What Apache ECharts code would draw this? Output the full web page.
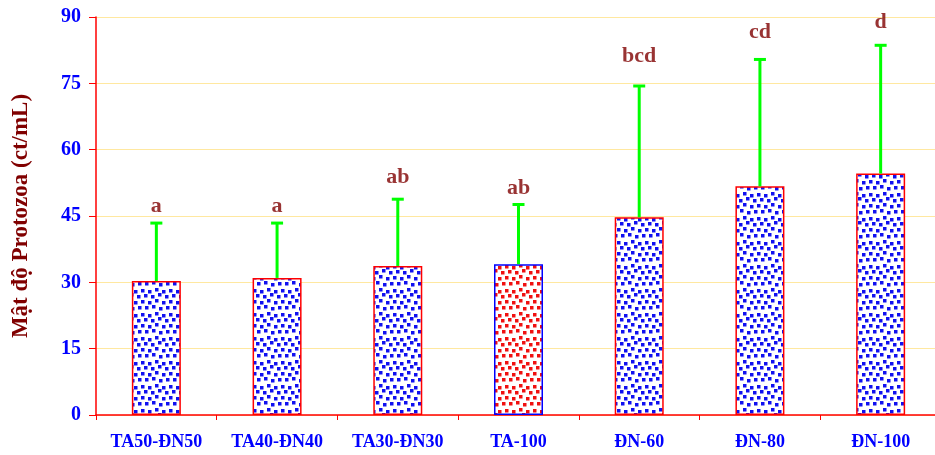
<!DOCTYPE html>
<html>
<head>
<meta charset="utf-8">
<script src="https://cdn.jsdelivr.net/npm/echarts@6/dist/echarts.min.js"></script>
<style>
  html, body { margin: 0; padding: 0; background: #fff; }
  #chart { width: 935px; height: 455px; }
</style>
</head>
<body>
<div id="chart"></div>
<script>
// Protozoa density by treatment, mean + upper SD, with significance letters
const categories = ['TA50-ĐN50', 'TA40-ĐN40', 'TA30-ĐN30', 'TA-100', 'ĐN-60', 'ĐN-80', 'ĐN-100'];
const means = [30.3, 31.0, 33.7, 34.1, 44.7, 51.7, 54.6];
const upper = [43.4, 43.4, 48.8, 47.6, 74.4, 80.4, 83.6];
const letters = ['a', 'a', 'ab', 'ab', 'bcd', 'cd', 'd'];
const letterHeights = [47.2, 47.2, 53.8, 51.3, 81.0, 86.6, 88.8];
const yTicks = [0, 15, 30, 45, 60, 75, 90];

const SERIF = '"Liberation Serif", "Times New Roman", serif';

// dotted fill tiles (staggered squares)
function dotTile(dot) {
  const c = document.createElement('canvas');
  c.width = 28; c.height = 24;
  const g = c.getContext('2d');
  g.fillStyle = '#ffffff';
  g.fillRect(0, 0, 28, 24);
  g.fillStyle = dot;
  const pts = [[1,1],[8,2],[15,0],[22,2],
               [4,6],[11,7],[18,5],[25,7],
               [1,12],[8,13],[15,11],[22,13],
               [5,18],[12,17],[19,19],[26,18]];
  pts.forEach(p => {
    g.fillRect(p[0], p[1], 3.5, 3.5);
    if (p[0] + 3.5 > 28) g.fillRect(p[0] - 28, p[1], 3.5, 3.5);
  });
  return c;
}
const blueFill = { image: dotTile('#1010f0'), repeat: 'repeat' };
const redFill = { image: dotTile('#f01010'), repeat: 'repeat' };

const barData = means.map((v, i) => ({
  value: v,
  itemStyle: i === 3
    ? { color: redFill, borderColor: '#0000ff', borderWidth: 1.5 }
    : { color: blueFill, borderColor: '#ff0000', borderWidth: 1.5 }
}));

const chart = echarts.init(document.getElementById('chart'), null, { renderer: 'canvas' });
chart.setOption({
  animation: false,
  grid: { left: 96, top: 17, bottom: 40, width: 845, outerBoundsMode: 'none', containLabel: false },
  xAxis: {
    type: 'category',
    data: categories,
    axisLine: { lineStyle: { color: '#ff0000', width: 1.5 } },
    axisTick: { show: true, length: 5, lineStyle: { color: '#ff0000' } },
    axisLabel: {
      color: '#0000ff', fontFamily: SERIF, fontWeight: 'bold',
      fontSize: 18, margin: 18
    }
  },
  yAxis: {
    type: 'value',
    min: 0, max: 90, interval: 15,
    name: 'Mật độ Protozoa (ct/mL)',
    nameLocation: 'middle',
    nameGap: 63,
    nameTextStyle: { color: '#800000', fontFamily: SERIF, fontWeight: 'bold', fontSize: 23 },
    axisLine: { show: true, lineStyle: { color: '#ff0000', width: 1.5 } },
    axisTick: { show: true, length: 7, lineStyle: { color: '#ff0000' } },
    axisLabel: {
      color: '#0000ff', fontFamily: SERIF, fontWeight: 'bold',
      fontSize: 20, margin: 15,
      formatter: v => yTicks.indexOf(v) >= 0 ? String(v) : ''
    },
    splitLine: { lineStyle: { color: '#ffe8a0', width: 1 } }
  },
  series: [
    {
      type: 'bar',
      data: barData,
      barWidth: 49,
      z: 2
    },
    {
      type: 'custom',
      data: upper.map((u, i) => [i, means[i], u]),
      encode: { x: 0, y: [1, 2] },
      z: 3,
      renderItem: function (params, api) {
        const i = api.value(0);
        const base = api.coord([i, api.value(1)]);
        const top = api.coord([i, api.value(2)]);
        const style = { stroke: '#00ff00', lineWidth: 3 };
        return {
          type: 'group',
          children: [
            { type: 'line', shape: { x1: base[0], y1: base[1], x2: top[0], y2: top[1] }, style: style },
            { type: 'line', shape: { x1: top[0] - 6, y1: top[1], x2: top[0] + 6, y2: top[1] }, style: style }
          ]
        };
      }
    },
    {
      type: 'scatter',
      data: letterHeights.map((h, i) => [i, h]),
      symbolSize: 0,
      silent: true,
      label: {
        show: true,
        position: 'inside',
        formatter: p => letters[p.dataIndex],
        color: '#800000',
        fontFamily: SERIF,
        fontWeight: 'bold',
        fontSize: 22
      }
    }
  ]
});
</script>
</body>
</html>
